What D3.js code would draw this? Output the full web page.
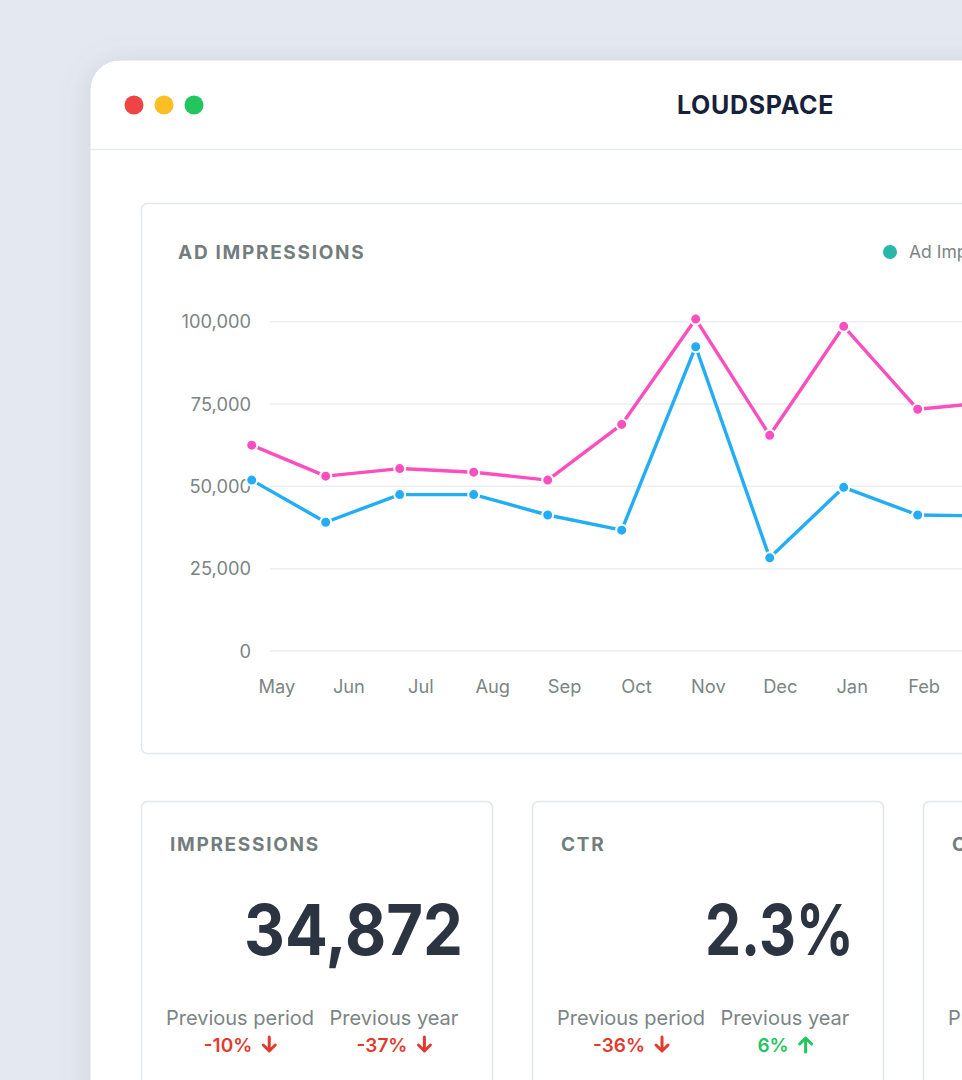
<!DOCTYPE html>
<html><head><meta charset="utf-8">
<script src="https://cdn.jsdelivr.net/npm/d3@7/dist/d3.min.js"></script>
<style>
html,body{margin:0;padding:0;background:#e4e8f0;overflow:hidden;}
svg{display:block;font-family:Inter,"Noto Sans",sans-serif;}
</style></head>
<body>
<svg id="c" width="962" height="1080"></svg>
<script>
const months = ["May","Jun","Jul","Aug","Sep","Oct","Nov","Dec","Jan","Feb","Mar"];
const seriesPink = [62500,53100,55400,54300,51900,68800,100800,65500,98600,73400,75600];
const seriesBlue = [51900,39100,47500,47500,41300,36700,92400,28300,49700,41300,41000];
const yTicks = [0,25000,50000,75000,100000];
const kpiTitles = ["IMPRESSIONS","CTR","CLICKS"];
const kpiValues = ["34,872","2.3%",""];
const prevPeriod = [-10,-36,null];
const prevYear = [-37,6,null];

const svg = d3.select("#c");
const defs = svg.append("defs");
const f = defs.append("filter").attr("id","sh").attr("x","-20%").attr("y","-20%").attr("width","140%").attr("height","140%");
f.append("feDropShadow").attr("dx",0).attr("dy",4).attr("stdDeviation",14).attr("flood-color","#7a869a").attr("flood-opacity",0.22);

// window
svg.append("rect").attr("x",90).attr("y",60).attr("width",1000).attr("height",1100).attr("rx",30)
  .attr("fill","#fff").attr("stroke","#d9dee6").attr("stroke-width",1).attr("filter","url(#sh)");
svg.append("line").attr("x1",90).attr("x2",962).attr("y1",149.5).attr("y2",149.5).attr("stroke","#e6e9ee").attr("stroke-width",1.5);
[["#ef4444",134],["#fbbf24",164],["#22c55e",194]].forEach(([c,x])=>{
  svg.append("circle").attr("cx",x).attr("cy",105).attr("r",9.5).attr("fill",c);
});
svg.append("text").attr("x",755.5).attr("y",114).attr("text-anchor","middle").attr("font-size",25).attr("font-weight",700)
  .attr("letter-spacing",0.7).attr("fill","#18213a").text("LOUDSPACE");

// chart card
svg.append("rect").attr("x",141.5).attr("y",203.5).attr("width",900).attr("height",550).attr("rx",6)
  .attr("fill","#fff").attr("stroke","#e3e6ea").attr("stroke-width",1.5);
svg.append("text").attr("x",178).attr("y",259).attr("font-size",19).attr("font-weight",700).attr("letter-spacing",1.7)
  .attr("fill","#737d7e").text("AD IMPRESSIONS");
svg.append("circle").attr("cx",890).attr("cy",252).attr("r",7).attr("fill","#2bb7a7");
svg.append("text").attr("x",909).attr("y",258).attr("font-size",17.5).attr("fill","#7b8585").text("Ad Impressions");

const y = d3.scaleLinear().domain([0,100000]).range([651,321.7]);
const x = d3.scalePoint().domain(months).range([251.7, 251.7+74*(months.length-1)]);
const xl = d3.scalePoint().domain(months).range([277, 277+71.9*(months.length-1)]);

const grid = svg.append("g");
yTicks.forEach(t=>{
  grid.append("line").attr("x1",270).attr("x2",962).attr("y1",y(t)).attr("y2",y(t)).attr("stroke","#eceef1").attr("stroke-width",1.5);
  grid.append("text").attr("x",251).attr("y",y(t)).attr("dy","0.36em").attr("text-anchor","end")
    .attr("font-size",18.3).attr("fill","#7b8585").text(d3.format(",")(t));
});
months.forEach(m=>{
  svg.append("text").attr("x",xl(m)).attr("y",686).attr("dy","0.36em").attr("text-anchor","middle")
    .attr("font-size",18.3).attr("fill","#7b8585").text(m);
});

function drawSeries(vals,color){
  const data = months.map((m,i)=>({m,v:vals[i]}));
  const line = d3.line().x(d=>x(d.m)).y(d=>y(d.v));
  svg.append("path").datum(data).attr("d",line).attr("fill","none").attr("stroke",color).attr("stroke-width",3.4).attr("stroke-linejoin","round");
  svg.append("g").selectAll("circle").data(data).join("circle")
    .attr("cx",d=>x(d.m)).attr("cy",d=>y(d.v)).attr("r",5.5).attr("fill",color).attr("stroke","#fff").attr("stroke-width",2);
}
drawSeries(seriesPink,"#fb4fbf");
drawSeries(seriesBlue,"#22adf6");

// KPI cards
const cardX = d3.scaleLinear().domain([0,1]).range([141,532]);
const bigWidths = [219,149,0];
kpiTitles.forEach((t,i)=>{
  const cx = cardX(i);
  const g = svg.append("g").attr("transform",`translate(${cx},0)`);
  g.append("rect").attr("x",0.5).attr("y",801.5).attr("width",351).attr("height",400).attr("rx",6)
    .attr("fill","#fff").attr("stroke","#e3e6ea").attr("stroke-width",1.5);
  g.append("text").attr("x",29).attr("y",851).attr("font-size",19).attr("font-weight",700).attr("letter-spacing",1.7)
    .attr("fill","#737d7e").text(t);
  if(kpiValues[i]) g.append("text").attr("x",322).attr("y",955).attr("text-anchor","end").attr("font-size",70)
    .attr("font-weight",700).attr("textLength",bigWidths[i]).attr("lengthAdjust","spacingAndGlyphs")
    .attr("fill","#2b3440").text(kpiValues[i]);
  [[99,"Previous period",prevPeriod[i]],[253,"Previous year",prevYear[i]]].forEach(([px,lab,v])=>{
    g.append("text").attr("x",px).attr("y",1025).attr("text-anchor","middle").attr("font-size",20)
      .attr("fill","#7b8585").text(lab);
    if(v===null) return;
    const col = v<0 ? "#e23b2e" : "#22c55e";
    const sg = g.append("g");
    const tx = sg.append("text").attr("x",0).attr("y",1052).attr("font-size",19).attr("font-weight",600)
      .attr("fill",col).text(v+"%");
    const w = tx.node().getComputedTextLength();
    const ax = w+17;
    const ag = sg.append("g").attr("transform",`translate(${ax},1045)`);
    if(v<0){
      ag.append("path").attr("d","M0,-8 L0,6 M-6,0 L0,6 L6,0").attr("fill","none").attr("stroke",col).attr("stroke-width",3).attr("stroke-linecap","round").attr("stroke-linejoin","round");
    } else {
      ag.append("path").attr("d","M0,7 L0,-7 M-6,-1 L0,-7 L6,-1").attr("fill","none").attr("stroke",col).attr("stroke-width",3).attr("stroke-linecap","round").attr("stroke-linejoin","round");
    }
    const total = ax+7;
    sg.attr("transform",`translate(${px-total/2},0)`);
  });
});
</script>
</body></html>
